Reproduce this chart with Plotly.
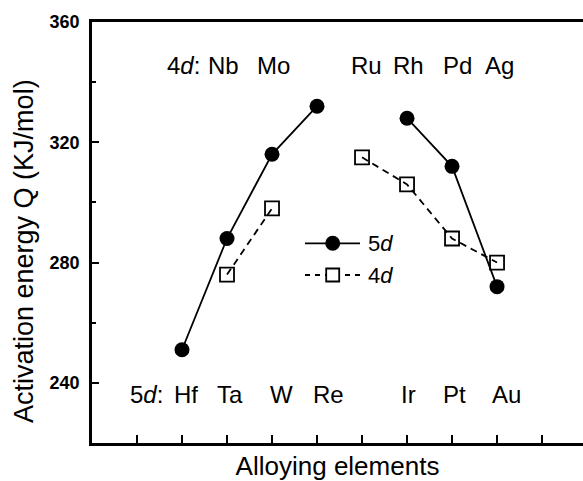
import plotly.graph_objects as go

# ---- data ----
x_pos = [2, 3, 4, 5, 6, 7, 8, 9]
q_5d = [251, 288, 316, 332, None, 328, 312, 272]
q_4d = [None, 276, 298, None, 315, 306, 288, 280]

labels_5d = ["Hf", "Ta", "W", "Re", "", "Ir", "Pt", "Au"]
labels_4d = ["", "Nb", "Mo", "", "Ru", "Rh", "Pd", "Ag"]

y_ticks = [240, 280, 320, 360]
y_minor = [260, 300, 340]
x_ticks = [1, 2, 3, 4, 5, 6, 7, 8, 9, 10]

FONT = "Arial, Liberation Sans, sans-serif"

fig = go.Figure()
fig.add_trace(go.Scatter(
    x=x_pos, y=q_5d, mode="lines+markers", name="5d", connectgaps=False,
    line=dict(color="black", width=1.8),
    marker=dict(symbol="circle", size=15, color="black"),
    showlegend=False,
))
fig.add_trace(go.Scatter(
    x=x_pos, y=q_4d, mode="lines+markers", name="4d", connectgaps=False,
    line=dict(color="black", width=1.8, dash="7px,5px"),
    marker=dict(symbol="square-open", size=14, color="black", line=dict(width=1.8)),
    showlegend=False,
))

# element labels (pixel nudges to match reference placement)
shift_5d = [4, 3, 9, 11, 0, 1, 2, 9]
shift_4d = [0, -4, 1, 0, 4, 1, 5, 2]
LAB_SIZE = 24
annotations = []
for xv, lab, sh in zip(x_pos, labels_5d, shift_5d):
    if lab:
        annotations.append(dict(x=xv, y=236, xref="x", yref="y", text=lab, showarrow=False,
                                xshift=sh, xanchor="center", yanchor="middle",
                                font=dict(family=FONT, size=LAB_SIZE, color="black")))
for xv, lab, sh in zip(x_pos, labels_4d, shift_4d):
    if lab:
        annotations.append(dict(x=xv, y=345.5, xref="x", yref="y", text=lab, showarrow=False,
                                xshift=sh, xanchor="center", yanchor="middle",
                                font=dict(family=FONT, size=LAB_SIZE, color="black")))
annotations.append(dict(x=1.62, y=236, xref="x", yref="y", text="5<i>d</i>:", showarrow=False,
                        xanchor="right", yanchor="middle",
                        font=dict(family=FONT, size=LAB_SIZE, color="black")))
annotations.append(dict(x=2.45, y=345.5, xref="x", yref="y", text="4<i>d</i>:", showarrow=False,
                        xanchor="right", yanchor="middle",
                        font=dict(family=FONT, size=LAB_SIZE, color="black")))

# manual legend
W, H = 583, 481
L, R, T, B = 92, 0, 22, 38
pw, ph = W - L - R, H - T - B
def px(xp):
    return (xp - L) / pw
def py(yp):
    return 1 - (yp - T) / ph

shapes = []
leg_rows = [(243.3, "5<i>d</i>", "solid"), (275, "4<i>d</i>", "5px,5px")]
for yrow, txt, dash in leg_rows:
    shapes.append(dict(type="line", xref="paper", yref="paper", x0=px(305), x1=px(360),
                       y0=py(yrow), y1=py(yrow), line=dict(color="black", width=1.8, dash=dash)))
    annotations.append(dict(x=px(366), y=py(yrow), xref="paper", yref="paper", text=txt,
                            showarrow=False, xanchor="left", yanchor="middle",
                            font=dict(family=FONT, size=22, color="black")))
# legend symbols
shapes.append(dict(type="circle", xref="paper", yref="paper", xsizemode="pixel", ysizemode="pixel",
                   xanchor=px(332.7), yanchor=py(243.3), x0=-7.5, x1=7.5, y0=-7.5, y1=7.5,
                   fillcolor="black", line=dict(color="black", width=0)))
shapes.append(dict(type="rect", xref="paper", yref="paper", xsizemode="pixel", ysizemode="pixel",
                   xanchor=px(332.7), yanchor=py(275), x0=-6.5, x1=6.5, y0=-6.5, y1=6.5,
                   fillcolor="white", line=dict(color="black", width=1.8)))

# y-axis title (placed as rotated annotation to match reference offset)
annotations.append(dict(x=px(24), y=py(251), xref="paper", yref="paper",
                        text="Activation energy Q (KJ/mol)", textangle=-90, showarrow=False,
                        xanchor="center", yanchor="middle",
                        font=dict(family=FONT, size=27, color="black")))

fig.update_layout(
    width=W, height=H,
    margin=dict(l=L, r=R, t=T, b=B, pad=0),
    paper_bgcolor="white", plot_bgcolor="white",
    font=dict(family=FONT, color="black"),
    annotations=annotations, shapes=shapes,
    showlegend=False,
)
fig.update_xaxes(
    range=[0, 10.91], tickmode="array", tickvals=x_ticks, showticklabels=False,
    ticks="inside", ticklen=8, tickwidth=2, tickcolor="black",
    showline=True, linecolor="black", linewidth=2.5, mirror=True,
    showgrid=False, zeroline=False,
    title=dict(text="Alloying elements", font=dict(family=FONT, size=26), standoff=13),
)
fig.update_yaxes(
    range=[220, 360], tickmode="array", tickvals=y_ticks,
    ticks="inside", ticklen=7, tickwidth=2, tickcolor="black",
    tickfont=dict(family=FONT, size=18, color="black", weight="bold"),
    ticklabelstandoff=6,
    minor=dict(tickmode="array", tickvals=y_minor, ticks="inside", ticklen=4, tickwidth=2, tickcolor="black"),
    showline=True, linecolor="black", linewidth=2.5, mirror=False,
    showgrid=False, zeroline=False,
)

fig.write_html(
    "out.html",
    config={"displayModeBar": False},
    post_script="document.body.style.margin='0';document.body.style.overflow='hidden';",
)
